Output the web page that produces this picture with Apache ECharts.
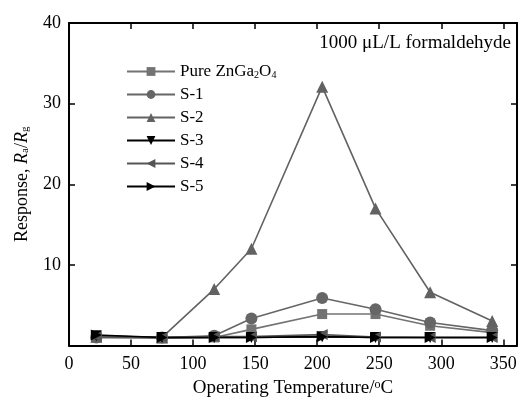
<!DOCTYPE html>
<html>
<head>
<meta charset="utf-8">
<script src="https://cdn.jsdelivr.net/npm/echarts@6/dist/echarts.min.js"></script>
<style>
  html, body { margin: 0; padding: 0; background: #fff; }
  #chart { width: 522px; height: 403px; }
</style>
</head>
<body>
<div id="chart"></div>
<script>
// operating temperature (deg C) of each measurement
var temps = [22, 75, 117, 147, 204, 247, 291, 341];

var pureZnGa2O4 = [1.0, 0.9, 1.0, 2.0, 3.9, 3.9, 2.45, 1.6];
var s1 = [1.0, 1.0, 1.2, 3.35, 5.9, 4.5, 2.85, 1.85];
var s2 = [1.1, 1.0, 7.0, 12.0, 32.1, 17.0, 6.6, 3.05];
var s3 = [1.2, 1.0, 1.0, 1.0, 1.1, 1.0, 1.0, 1.0];
var s4 = [1.1, 1.0, 1.1, 1.1, 1.35, 1.05, 1.0, 1.0];
var s5 = [1.3, 1.0, 1.0, 1.0, 1.1, 1.0, 1.0, 1.0];

var seriesNames = ['Pure ZnGa2O4', 'S-1', 'S-2', 'S-3', 'S-4', 'S-5'];
var xTicks = [0, 50, 100, 150, 200, 250, 300, 350];
var yTicks = [10, 20, 30, 40];

var serif = 'Liberation Serif';

function pairs(ys) {
    var out = [];
    for (var i = 0; i < temps.length; i++) {
        out.push([temps[i], ys[i]]);
    }
    return out;
}

function makeSeries(name, ys, color, symbol, size, rotate) {
    return {
        name: name,
        type: 'line',
        data: pairs(ys),
        symbol: symbol,
        symbolSize: size,
        symbolRotate: rotate || 0,
        showAllSymbol: true,
        lineStyle: { color: color, width: 1.6 },
        itemStyle: { color: color },
        emphasis: { disabled: true },
        animation: false
    };
}

var frameLine = { onZero: false, lineStyle: { color: '#000', width: 2 } };
var frameTick = { inside: true, length: 6, lineStyle: { color: '#000', width: 1.5 } };

var myChart = echarts.init(document.getElementById('chart'));
myChart.setOption({
    backgroundColor: '#fff',
    textStyle: { fontFamily: serif },
    grid: { left: 69, right: 5, top: 23, bottom: 53 },
    legend: {
        orient: 'vertical',
        left: 121,
        top: 58,
        itemWidth: 48,
        itemHeight: 11,
        itemGap: 6,
        data: seriesNames,
        formatter: function (name) {
            if (name === 'Pure ZnGa2O4') {
                return 'Pure ZnGa{sub|2}O{sub|4}';
            }
            return name;
        },
        textStyle: {
            fontFamily: serif,
            fontSize: 17,
            color: '#000',
            lineHeight: 17,
            rich: {
                sub: { fontFamily: serif, fontSize: 10, verticalAlign: 'bottom', lineHeight: 12, padding: [6, 0, 0, 0] }
            }
        }
    },
    graphic: [{
        type: 'text',
        right: 11,
        top: 34,
        style: {
            text: '1000 \u03bcL/L formaldehyde',
            fontFamily: serif,
            fontSize: 19,
            fill: '#000'
        }
    }],
    xAxis: [{
        type: 'value',
        min: 0,
        max: 361,
        interval: 50,
        name: 'Operating Temperature/{sup|o}C',
        nameLocation: 'middle',
        nameGap: 33,
        nameTextStyle: {
            fontFamily: serif,
            fontSize: 19,
            color: '#000',
            rich: {
                sup: { fontFamily: serif, fontSize: 12, verticalAlign: 'top', padding: [0, 0, 8, 0] }
            }
        },
        axisLine: frameLine,
        axisTick: frameTick,
        axisLabel: {
            fontFamily: serif,
            fontSize: 18,
            color: '#000',
            margin: 10,
            showMaxLabel: false,
            formatter: function (v) { return xTicks.indexOf(v) >= 0 ? String(v) : ''; }
        },
        splitLine: { show: false }
    }, {
        type: 'value',
        position: 'top',
        min: 0,
        max: 361,
        interval: 50,
        axisLine: frameLine,
        axisTick: frameTick,
        axisLabel: { show: false },
        splitLine: { show: false }
    }],
    yAxis: [{
        type: 'value',
        min: 0,
        max: 40,
        interval: 10,
        name: 'Response, {it|R}{sub|a}/{it|R}{sub|g}',
        nameLocation: 'middle',
        nameGap: 38,
        nameRotate: 90,
        nameTextStyle: {
            fontFamily: serif,
            fontSize: 18,
            color: '#000',
            rich: {
                it: { fontFamily: serif, fontSize: 18, fontStyle: 'italic' },
                sub: { fontFamily: serif, fontSize: 11, verticalAlign: 'bottom', padding: [6, 0, 0, 0] }
            }
        },
        axisLine: { show: true, onZero: false, lineStyle: { color: '#000', width: 2 } },
        axisTick: frameTick,
        axisLabel: {
            fontFamily: serif,
            fontSize: 18,
            color: '#000',
            margin: 8,
            showMinLabel: false,
            formatter: function (v) { return yTicks.indexOf(v) >= 0 ? String(v) : ''; }
        },
        splitLine: { show: false }
    }, {
        type: 'value',
        position: 'right',
        min: 0,
        max: 40,
        interval: 10,
        axisLine: { show: true, onZero: false, lineStyle: { color: '#000', width: 2 } },
        axisTick: frameTick,
        axisLabel: { show: false },
        splitLine: { show: false }
    }],
    series: [
        makeSeries('Pure ZnGa2O4', pureZnGa2O4, '#737373', 'rect', 10),
        makeSeries('S-1', s1, '#666666', 'circle', 12),
        makeSeries('S-2', s2, '#626262', 'triangle', 12),
        makeSeries('S-3', s3, '#000000', 'triangle', 11, 180),
        makeSeries('S-4', s4, '#555555', 'triangle', 11, 90),
        makeSeries('S-5', s5, '#000000', 'triangle', 11, -90)
    ]
});
</script>
</body>
</html>
